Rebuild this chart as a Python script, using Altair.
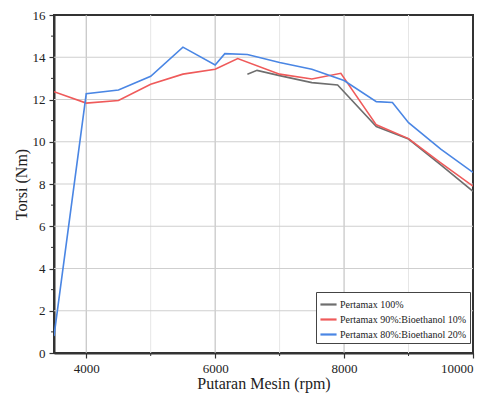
import altair as alt
import pandas as pd

series_names = ["Pertamax 100%", "Pertamax 90%:Bioethanol 10%", "Pertamax 80%:Bioethanol 20%"]
colors = ["#6e6e6e", "#ef5a5a", "#4a86e4"]

rpm_100 = [6500, 6650, 7000, 7500, 7900, 8500, 9000, 9500, 10000]
tq_100 = [13.2, 13.38, 13.13, 12.8, 12.69, 10.72, 10.13, 8.9, 7.65]

rpm_90 = [3500, 4000, 4500, 5000, 5500, 6000, 6350, 7000, 7500, 7950, 8500, 9000, 9500, 10000]
tq_90 = [12.37, 11.83, 11.95, 12.72, 13.2, 13.43, 13.94, 13.2, 12.97, 13.24, 10.8, 10.15, 9.0, 7.9]

rpm_80 = [3500, 4000, 4500, 5000, 5500, 6000, 6150, 6500, 7000, 7500, 8000, 8500, 8750, 9000, 9500, 10000]
tq_80 = [0.8, 12.27, 12.45, 13.1, 14.48, 13.63, 14.17, 14.13, 13.75, 13.43, 12.9, 11.9, 11.86, 10.9, 9.65, 8.55]

x_ticks = [4000, 6000, 8000, 10000]
x_minor = [5000, 7000, 9000]
y_ticks = [0, 2, 4, 6, 8, 10, 12, 14, 16]
y_minor = [1, 3, 5, 7, 9, 11, 13, 15]

rows = []
for name, xs, ys in zip(series_names, [rpm_100, rpm_90, rpm_80], [tq_100, tq_90, tq_80]):
    for i, (a, b) in enumerate(zip(xs, ys)):
        rows.append({"series": name, "rpm": a, "torque": b, "order": i})
df = pd.DataFrame(rows)

W, H = 419, 338
xscale = alt.Scale(domain=[3500, 10000], nice=False, zero=False)
yscale = alt.Scale(domain=[0, 16], nice=False)
FONT = "Liberation Serif"

xminor_grid = alt.Chart(pd.DataFrame({"v": x_minor})).mark_rule(color="#e6e6e6", strokeWidth=1).encode(
    x=alt.X("v:Q", scale=xscale))
xmajor_grid = alt.Chart(pd.DataFrame({"v": [4000, 6000, 8000]})).mark_rule(color="#b8b8b8", strokeWidth=1).encode(
    x=alt.X("v:Q", scale=xscale))
ymajor_grid = alt.Chart(pd.DataFrame({"v": y_ticks[1:-1]})).mark_rule(color="#cfcfcf", strokeWidth=1.2).encode(
    y=alt.Y("v:Q", scale=yscale))

lines = alt.Chart(df).mark_line(strokeWidth=1.6, clip=True).encode(
    x=alt.X("rpm:Q", scale=xscale,
            axis=alt.Axis(title="Putaran Mesin (rpm)", values=x_ticks, grid=False, format="d",
                          tickSize=5, labelPadding=4, titlePadding=0)),
    y=alt.Y("torque:Q", scale=yscale,
            axis=alt.Axis(title="Torsi (Nm)", values=y_ticks, grid=False,
                          tickSize=5, labelPadding=4, titlePadding=3)),
    color=alt.Color("series:N",
                    scale=alt.Scale(domain=series_names, range=colors),
                    sort=series_names,
                    legend=alt.Legend(title=None, orient="none", legendX=262, legendY=277,
                                      symbolType="stroke", symbolSize=260, symbolStrokeWidth=2.2,
                                      labelFont=FONT, labelFontSize=10, labelColor="#222",
                                      rowPadding=0, padding=3, strokeColor="#444",
                                      fillColor="white", symbolOffset=0, labelOffset=2)),
    order="order:Q",
)

# minor ticks
yminor_ticks = alt.Chart(pd.DataFrame({"v": y_minor})).mark_rule(color="#333", strokeWidth=1).encode(
    y=alt.Y("v:Q", scale=yscale), x=alt.value(-3), x2=alt.value(0))
xminor_ticks = alt.Chart(pd.DataFrame({"v": x_minor})).mark_rule(color="#333", strokeWidth=1).encode(
    x=alt.X("v:Q", scale=xscale), y=alt.value(H), y2=alt.value(H + 3))

chart = alt.layer(xminor_grid, xmajor_grid, ymajor_grid, lines, yminor_ticks, xminor_ticks).properties(
    width=W, height=H,
    autosize=alt.AutoSizeParams(type="none"),
    padding={"left": 46, "top": 7, "right": 16, "bottom": 50},
).configure_view(stroke="#333", strokeWidth=2).configure_axis(
    labelFont=FONT, titleFont=FONT, labelFontSize=13, titleFontSize=16,
    labelColor="#222", titleColor="#222", titleFontWeight="normal",
    domainColor="#333", domainWidth=2, tickColor="#333", tickWidth=1.2,
)

chart.save("out.html", embed_options={"renderer": "svg", "actions": False})
